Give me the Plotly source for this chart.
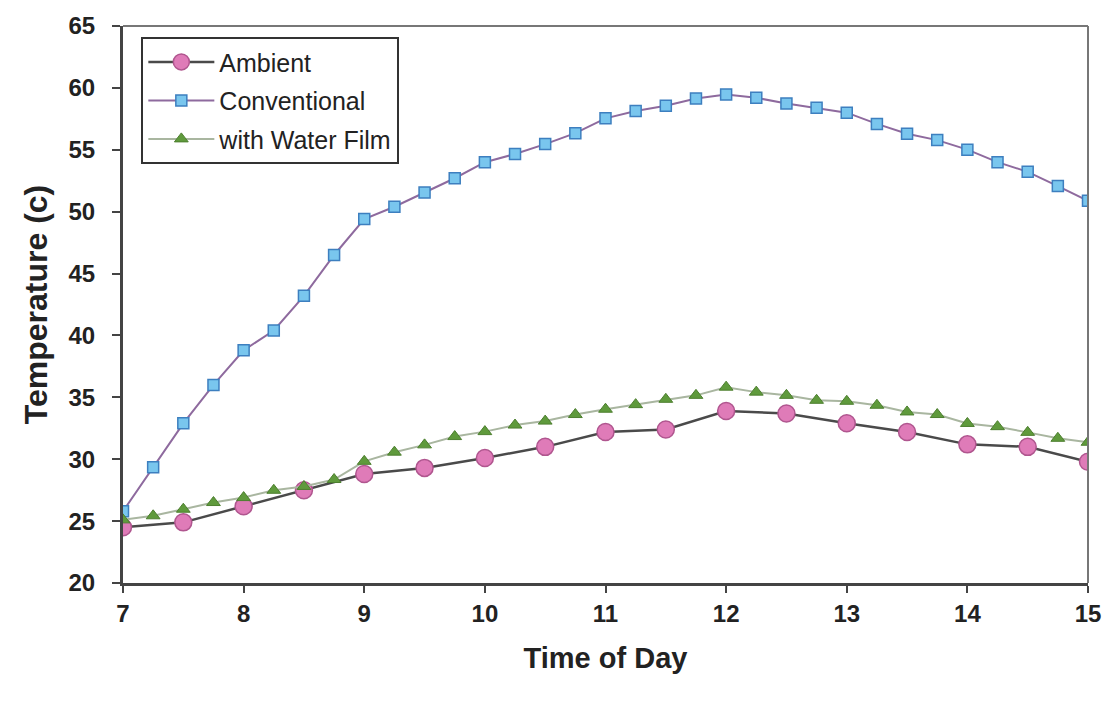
import plotly.graph_objects as go

# Time of day (hours)
time_quarter = [7 + 0.25 * i for i in range(33)]
time_half = [7 + 0.5 * i for i in range(17)]

ambient = [24.5, 24.9, 26.2, 27.5, 28.8, 29.3, 30.1, 31.0, 32.2, 32.4,
           33.9, 33.7, 32.9, 32.2, 31.2, 31.0, 29.8]

conventional = [25.8, 29.35, 32.9, 36.0, 38.8, 40.4, 43.2, 46.5, 49.4, 50.4,
                51.55, 52.7, 54.0, 54.66, 55.46, 56.34, 57.54, 58.13, 58.55, 59.14,
                59.46, 59.2, 58.74, 58.39, 58.0, 57.09, 56.29, 55.78, 55.01, 54.0,
                53.22, 52.07, 50.88]

water_film = [25.1, 25.43, 25.96, 26.5, 26.9, 27.49, 27.8, 28.36, 29.83, 30.57,
              31.16, 31.83, 32.23, 32.76, 33.08, 33.61, 34.04, 34.41, 34.84, 35.16,
              35.82, 35.42, 35.16, 34.76, 34.68, 34.36, 33.82, 33.61, 32.89, 32.63,
              32.17, 31.69, 31.37]

x_ticks = [7, 8, 9, 10, 11, 12, 13, 14, 15]
y_ticks = [20, 25, 30, 35, 40, 45, 50, 55, 60, 65]

FONT = "Liberation Sans, Arial, sans-serif"
INK = "#222222"

fig = go.Figure()

fig.add_trace(go.Scatter(
    x=time_half, y=ambient, name="Ambient", mode="lines+markers", legendgroup="a",
    line=dict(color="#4a4a4a", width=2.5),
    marker=dict(symbol="circle", size=17, color="#df7bb8",
                line=dict(color="#b0568f", width=1.5)),
))
fig.add_trace(go.Scatter(
    x=time_quarter, y=conventional, name="Conventional", mode="lines+markers", legendgroup="b",
    line=dict(color="#8e6a9e", width=2),
    marker=dict(symbol="square", size=11, color="#79c6ee",
                line=dict(color="#3d7fbf", width=1.5)),
))
fig.add_trace(go.Scatter(
    x=time_quarter, y=water_film, name="with Water Film", mode="lines+markers", legendgroup="c",
    line=dict(color="#a9b6a0", width=2),
    marker=dict(symbol="triangle-up", size=12, color="#5f9a3c",
                line=dict(color="#4d7f2f", width=1)),
))

fig.update_layout(
    width=1114, height=703,
    margin=dict(l=123, r=26, t=20, b=120),
    paper_bgcolor="white", plot_bgcolor="white",
    showlegend=True,
    legend=dict(
        x=0.019, y=0.98, xanchor="left", yanchor="top",
        bgcolor="white", bordercolor="#333333", borderwidth=2,
        font=dict(family=FONT, size=25, color=INK),
        itemwidth=66, tracegroupgap=3,
    ),
    xaxis=dict(
        range=[7, 15], tickvals=x_ticks, ticktext=["<b>%d</b>" % v for v in x_ticks],
        showgrid=False, zeroline=False,
        showline=True, linecolor="#444444", linewidth=3,
        ticks="outside", ticklen=7, tickwidth=2, tickcolor="#444444",
        tickfont=dict(family=FONT, size=24, color=INK),
        title=dict(text="<b>Time of Day</b>", font=dict(family=FONT, size=29, color=INK), standoff=22),
    ),
    yaxis=dict(
        range=[20, 65], tickvals=y_ticks, ticktext=["<b>%d</b>" % v for v in y_ticks],
        showgrid=False, zeroline=False,
        showline=True, linecolor="#444444", linewidth=3,
        ticks="outside", ticklen=8, tickwidth=2, tickcolor="#444444",
        ticklabelstandoff=12,
        tickfont=dict(family=FONT, size=24, color=INK),
        title=dict(text="<b>Temperature (c)</b>", font=dict(family=FONT, size=32, color=INK), standoff=12),
    ),
    shapes=[
        dict(type="line", xref="paper", yref="paper", x0=0, x1=1, y0=1, y1=1,
             line=dict(color="#777777", width=2)),
        dict(type="line", xref="paper", yref="paper", x0=1, x1=1, y0=0, y1=1,
             line=dict(color="#777777", width=2)),
    ],
)

fig.write_html("out.html")
